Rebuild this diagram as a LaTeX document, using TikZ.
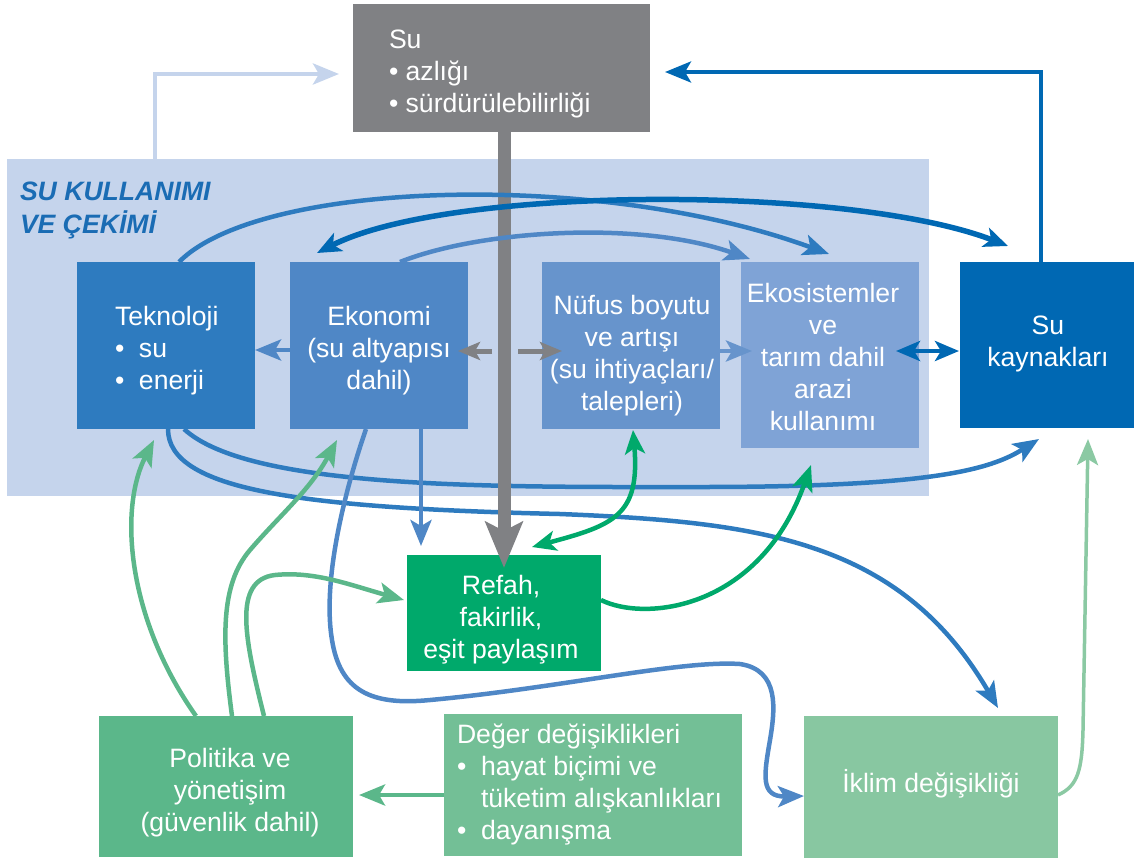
\documentclass[tikz,border=0pt]{standalone}
\usepackage{fontspec}
\setmainfont{Liberation Sans}
\usetikzlibrary{arrows.meta,calc}

\definecolor{bgblue}{HTML}{C5D4EC}
\definecolor{tekblue}{HTML}{2E7BBF}
\definecolor{ekoblue}{HTML}{4F87C6}
\definecolor{nufblue}{HTML}{6794CC}
\definecolor{ekosblue}{HTML}{7FA3D6}
\definecolor{deepblue}{HTML}{0068B3}
\definecolor{titleblue}{HTML}{1A6CB4}
\definecolor{boxgray}{HTML}{808184}
\definecolor{refgreen}{HTML}{00A96B}
\definecolor{polgreen}{HTML}{5BB78A}
\definecolor{deggreen}{HTML}{73BF96}
\definecolor{iklgreen}{HTML}{88C7A1}
\definecolor{arrgreen}{HTML}{8BC9A3}

\newcommand{\diagfont}{\fontsize{26.6}{32}\selectfont}
\newcommand{\titlefont}{\fontsize{26.6}{31}\selectfont\bfseries\itshape}

\begin{document}
\begin{tikzpicture}[x=1pt,y=-1pt,
  panel/.style={inner sep=0pt, outer sep=0pt, draw=none},
  lbl/.style={inner sep=0pt, outer sep=0pt, text=white, font=\diagfont},
  ctext/.style={lbl, anchor=north, align=center},
  ltext/.style={lbl, anchor=north west, align=left},
  link/.style={line width=4.5pt},
  arr/.style={-{Stealth[length=26pt,width=21pt,inset=6pt]}},
  arrboth/.style={{Stealth[length=24pt,width=20pt,inset=6pt]}-{Stealth[length=24pt,width=20pt,inset=6pt]}},
  grayarr/.style={line width=5pt, boxgray, -{Stealth[length=22pt,width=18pt,inset=5pt]}}
]
\useasboundingbox (0,0) rectangle (1134,860);

% ---------- panels ----------
\node[panel, fill=bgblue,   minimum width=922pt, minimum height=337pt] (bg)    at (468,327.5) {};
\node[panel, fill=boxgray,  minimum width=297pt, minimum height=128pt] (suBox) at (501.5,68) {};
\node[panel, fill=tekblue,  minimum width=178pt, minimum height=167pt] (tek)   at (166,345.5) {};
\node[panel, fill=ekoblue,  minimum width=178pt, minimum height=167pt] (eko)   at (379,345.5) {};
\node[panel, fill=nufblue,  minimum width=178pt, minimum height=167pt] (nuf)   at (631,345.5) {};
\node[panel, fill=ekosblue, minimum width=178pt, minimum height=186pt] (ekos)  at (830,355) {};
\node[panel, fill=deepblue, minimum width=174pt, minimum height=166pt] (kay)   at (1047,345) {};
\node[panel, fill=refgreen, minimum width=194pt, minimum height=116pt] (refah) at (504,613) {};
\node[panel, fill=polgreen, minimum width=254pt, minimum height=141pt] (pol)   at (226,786.5) {};
\node[panel, fill=deggreen, minimum width=298pt, minimum height=142pt] (deger) at (593,785) {};
\node[panel, fill=iklgreen, minimum width=254pt, minimum height=142pt] (iklim) at (931,787) {};

% ---------- frame arrows to the water box ----------
\draw[link, bgblue, -{Stealth[length=26pt,width=21pt,inset=6pt]}]
  ($(bg.north west)+(148,0)$) |- ($(suBox.west)+(-14,6)$);
\draw[link, deepblue, line width=4pt, -{Stealth[length=26pt,width=21pt,inset=6pt]}]
  ($(kay.north)+(-6,0)$) |- ($(suBox.east)+(15,4)$);

% ---------- lower sweeping curves from Teknoloji ----------
\draw[link, tekblue, arr]
  ($(tek.south)+(2,0)$) .. controls (168,490) and (300,508) .. (560,514)
  .. controls (760,522) and (900,540) .. ($(iklim.north)+(67,-8)$);
\draw[link, tekblue, arr]
  ($(tek.south)+(18,0)$) .. controls (250,490) and (500,487) .. (700,487)
  .. controls (930,487) and (990,470) .. ($(kay.south)+(-8,11)$);

% ---------- central gray bar ----------
\draw[boxgray, line width=13pt, -{Stealth[length=46pt,width=37pt,inset=9pt]}]
  (suBox.south -| refah.north) -- ($(refah.north)+(0,13)$);
\draw[grayarr] ($(eko.east)+(24,5.5)$) -- ($(eko.east)+(-10,5.5)$);
\draw[grayarr] ($(nuf.west)+(-24,5.5)$) -- ($(nuf.west)+(20,5.5)$);

% ---------- upper curves ----------
\draw[link, tekblue, arr]
  ($(tek.north)+(13,0)$) .. controls (260,180) and (600,170) .. ($(ekos.north)+(-1,-8)$);
\draw[link, ekoblue, arr]
  ($(eko.north)+(21,0)$) .. controls (480,230) and (640,220) .. ($(ekos.north west)+(9,-3)$);
\draw[link, deepblue, line width=5.5pt, arrboth]
  ($(eko.north)+(-62,-9)$) .. controls (450,185) and (850,185) .. ($(kay.north)+(-39,-16)$);

% ---------- straight links inside the frame ----------
\draw[link, ekoblue, arr] (eko.west |- 0,350) -- (tek.east |- 0,350);
\draw[link, nufblue, arr] (nuf.east |- 0,351) -- ($(nuf.east)+(32,5.5)$);
\draw[link, deepblue, arrboth] ($(ekos.east)+(-23,-4)$) -- ($(kay.west)+(-1,6)$);
\draw[link, ekoblue, arr] ($(eko.south)+(42,0)$) -- ($(refah.north)+(-83,-9)$);

% ---------- Ekonomi to climate change ----------
\draw[link, ekoblue, arr]
  ($(eko.south)+(-13,0)$) .. controls (345,490) and (322,580) .. (332,640)
  .. controls (340,690) and (370,706) .. (430,700)
  .. controls (560,688) and (680,660) .. (740,664)
  .. controls (780,670) and (775,710) .. (770,740)
  .. controls (764,775) and (760,797) .. ($(iklim.west)+(0,9)$);

% ---------- green links around welfare ----------
\draw[link, refgreen, arrboth]
  ($(refah.north)+(28,-8)$) .. controls (615,525) and (640,515) .. ($(nuf.south)+(2,1)$);
\draw[link, refgreen, arr]
  ($(refah.east)+(0,-13)$) .. controls (645,622) and (760,610) .. ($(ekos.south)+(-19,17)$);

% ---------- policy links ----------
\draw[link, polgreen, arr]
  ($(pol.north)+(-30,0)$) .. controls (128,620) and (118,510) .. ($(tek.south)+(-12,11)$);
\draw[link, polgreen, arr]
  ($(pol.north)+(6,0)$) .. controls (222,640) and (220,585) .. (250,550)
  .. controls (280,515) and (310,490) .. ($(eko.south)+(-42,11)$);
\draw[link, polgreen, arr]
  ($(pol.north)+(38,0)$) .. controls (245,640) and (232,580) .. (275,575)
  .. controls (315,571) and (350,585) .. ($(refah.west)+(-3,-13)$);
\draw[link, polgreen, arr]
  ($(deger.west)+(0,10)$) -- ($(pol.east)+(6,8.5)$);

% ---------- climate change to water resources ----------
\draw[link, arrgreen, line width=3.5pt, arr]
  ($(iklim.east)+(0,8)$) .. controls (1078,786) and (1082,770) .. (1083,730)
  -- ($(kay.south)+(41,11)$);

% ---------- texts ----------
\node[lbl, anchor=north west, align=left, text=titleblue, font=\titlefont] (title)
  at (20,178.3) {\strut SU KULLANIMI\\VE ÇEKİMİ};
\node[ltext] (tSu)   at (389,25.6)  {\strut Su\\•~azlığı\\•~sürdürülebilirliği};
\node[ltext] (tTek)  at (115,302.6) {\strut Teknoloji\\\makebox[24pt][l]{•}su\\\makebox[24pt][l]{•}enerji};
\node[ctext] (tEko)  at (379,302.6) {\strut Ekonomi\\(su altyapısı\\dahil)};
\node[ctext] (tNuf)  at (632,291.6) {\strut Nüfus boyutu\\ve artışı\\(su ihtiyaçları/\\talepleri)};
\node[ctext] (tEkos) at (823,279.6) {\strut Ekosistemler\\ve\\tarım dahil\\arazi\\kullanımı};
\node[ctext] (tKay)  at (1048,311.6) {\strut Su\\kaynakları};
\node[ctext] (tRef)  at (501,571.6) {\strut Refah,\\fakirlik,\\eşit paylaşım};
\node[ctext] (tPol)  at (230,744.6) {\strut Politika ve\\yönetişim\\(güvenlik dahil)};
\node[ltext] (tDeg)  at (457,720.6) {\strut Değer değişiklikleri\\\makebox[24pt][l]{•}hayat biçimi ve\\\hspace*{24pt}tüketim alışkanlıkları\\\makebox[24pt][l]{•}dayanışma};
\node[ctext] (tIkl)  at (931,769.6) {\strut İklim değişikliği};
\end{tikzpicture}
\end{document}
